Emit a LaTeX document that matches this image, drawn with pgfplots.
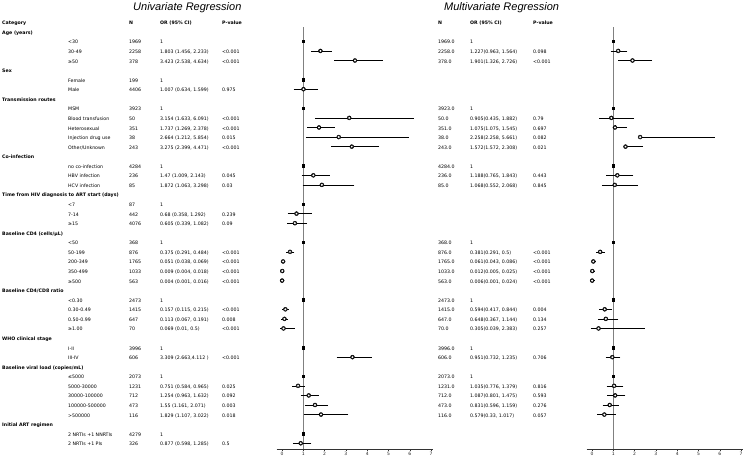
\documentclass[border=0pt]{standalone}
\usepackage{fontspec}
\setmainfont{DejaVu Sans}
\newfontfamily\titlefont{Liberation Sans}
\usepackage{pgfplots}
\pgfplotsset{compat=1.18}
\usepackage{pgfplotstable}

% Univariate estimates: row, OR, lower, upper
\pgfplotstableread{
row or lo hi
3 1.803 1.456 2.233
4 3.423 2.538 4.634
7 1.007 0.634 1.599
10 3.154 1.633 6.091
11 1.737 1.269 2.378
12 2.664 1.212 5.854
13 3.275 2.399 4.471
16 1.47 1.009 2.143
17 1.872 1.063 3.298
20 0.68 0.358 1.292
21 0.605 0.339 1.082
24 0.375 0.291 0.484
25 0.051 0.038 0.069
26 0.009 0.004 0.018
27 0.004 0.001 0.016
30 0.157 0.115 0.215
31 0.113 0.067 0.191
32 0.069 0.01 0.5
35 3.309 2.663 4.112
38 0.751 0.584 0.965
39 1.254 0.963 1.632
40 1.55 1.161 2.071
41 1.829 1.107 3.022
44 0.877 0.598 1.285
}\uniest
\pgfplotstableread{
row or
2 1
6 1
9 1
15 1
19 1
23 1
29 1
34 1
37 1
43 1
}\uniref
% Multivariate estimates
\pgfplotstableread{
row or lo hi
3 1.227 0.963 1.564
4 1.901 1.326 2.726
10 0.905 0.435 1.882
11 1.075 1.075 1.545
12 2.258 2.258 5.661
13 1.572 1.572 2.308
16 1.188 0.765 1.843
17 1.068 0.552 2.068
24 0.381 0.291 0.5
25 0.061 0.043 0.086
26 0.012 0.005 0.025
27 0.006 0.001 0.024
30 0.594 0.417 0.844
31 0.648 0.367 1.144
32 0.305 0.039 2.383
35 0.951 0.732 1.235
38 1.035 0.776 1.379
39 1.087 0.801 1.475
40 0.831 0.596 1.159
41 0.579 0.33 1.017
}\mulest
\pgfplotstableread{
row or
2 1
9 1
15 1
23 1
29 1
34 1
37 1
}\mulref

\newcommand\ts{\fontsize{4.7pt}{5.6pt}\selectfont}
\newcommand\tb{\fontsize{4.7pt}{5.6pt}\selectfont\bfseries}
\newcommand\G[2]{\node[anchor=mid west,font=\tb,inner sep=0] at (2,#1) {#2};}
\newcommand\R[5]{%
  \node[anchor=mid west,font=\ts,inner sep=0] at (68,#1) {#2};
  \node[anchor=mid west,font=\ts,inner sep=0] at (129,#1) {#3};
  \node[anchor=mid west,font=\ts,inner sep=0] at (160,#1) {#4};
  \node[anchor=mid west,font=\ts,inner sep=0] at (222,#1) {#5};}
\newcommand\M[4]{%
  \node[anchor=mid west,font=\ts,inner sep=0] at (438,#1) {#2};
  \node[anchor=mid west,font=\ts,inner sep=0] at (470,#1) {#3};
  \node[anchor=mid west,font=\ts,inner sep=0] at (533,#1) {#4};}

\pgfplotsset{forest/.style={
  scale only axis, width=156.5pt, height=422pt,
  xmin=-0.25, xmax=7.1, ymin=0.5, ymax=44.6, y dir=reverse,
  axis x line*=bottom, axis y line=none,
  xtick={0,1,2,3,4,5,6,7}, xtick align=outside, major tick length=2pt,
  x axis line style={black!80, line width=0.5pt},
  every tick/.style={black!80, line width=0.4pt},
  xticklabel style={font=\fontsize{4.5pt}{5pt}\selectfont, inner sep=1pt, text=black!85},
  /pgf/number format/assume math mode=true,
  clip=false,
  anchor=south west}}

\begin{document}
\begin{tikzpicture}
\path[use as bounding box] (0,0) rectangle (744pt,-458pt);

\node[anchor=base west,font=\titlefont\itshape\fontsize{11pt}{13pt}\selectfont,inner sep=0] at (133pt,-10pt) {Univariate Regression};
\node[anchor=base west,font=\titlefont\itshape\fontsize{11pt}{13pt}\selectfont,inner sep=0] at (444pt,-10pt) {Multivariate Regression};

\begin{scope}[x=1pt,y=-9.57pt,yshift=-22pt]
\G{0}{Category}
\node[anchor=mid west,font=\tb,inner sep=0] at (129,0) {N};
\node[anchor=mid west,font=\tb,inner sep=0] at (160,0) {OR (95\% CI)};
\node[anchor=mid west,font=\tb,inner sep=0] at (222,0) {P-value};
\node[anchor=mid west,font=\tb,inner sep=0] at (438,0) {N};
\node[anchor=mid west,font=\tb,inner sep=0] at (470,0) {OR (95\% CI)};
\node[anchor=mid west,font=\tb,inner sep=0] at (533,0) {P-value};

\G{1}{Age (years)}
\R{2}{<30}{1969}{1}{}
\R{3}{30-49}{2258}{1.803 (1.456, 2.233)}{<0.001}
\R{4}{≥50}{378}{3.423 (2.538, 4.634)}{<0.001}
\G{5}{Sex}
\R{6}{Female}{199}{1}{}
\R{7}{Male}{4406}{1.007 (0.634, 1.599)}{0.975}
\G{8}{Transmission routes}
\R{9}{MSM}{3923}{1}{}
\R{10}{Blood transfusion}{50}{3.154 (1.633, 6.091)}{<0.001}
\R{11}{Heterosexual}{351}{1.737 (1.269, 2.378)}{<0.001}
\R{12}{Injection drug use}{38}{2.664 (1.212, 5.854)}{0.015}
\R{13}{Other/Unknown}{243}{3.275 (2.399, 4.471)}{<0.001}
\G{14}{Co-infection}
\R{15}{no co-infection}{4284}{1}{}
\R{16}{HBV infection}{236}{1.47 (1.009, 2.143)}{0.045}
\R{17}{HCV infection}{85}{1.872 (1.063, 3.298)}{0.03}
\G{18}{Time from HIV diagnosis to ART start (days)}
\R{19}{<7}{87}{1}{}
\R{20}{7-14}{442}{0.68 (0.358, 1.292)}{0.239}
\R{21}{≥15}{4076}{0.605 (0.339, 1.082)}{0.09}
\G{22}{Baseline CD4 (cells/μL)}
\R{23}{<50}{368}{1}{}
\R{24}{50-199}{876}{0.375 (0.291, 0.484)}{<0.001}
\R{25}{200-349}{1765}{0.051 (0.038, 0.069)}{<0.001}
\R{26}{350-499}{1033}{0.009 (0.004, 0.018)}{<0.001}
\R{27}{≥500}{563}{0.004 (0.001, 0.016)}{<0.001}
\G{28}{Baseline CD4/CD8 ratio}
\R{29}{<0.30}{2473}{1}{}
\R{30}{0.30-0.49}{1415}{0.157 (0.115, 0.215)}{<0.001}
\R{31}{0.50-0.99}{647}{0.113 (0.067, 0.191)}{0.008}
\R{32}{≥1.00}{70}{0.069 (0.01, 0.5)}{<0.001}
\G{33}{WHO clinical stage}
\R{34}{I-II}{3996}{1}{}
\R{35}{III-IV}{606}{3.309 (2.663,4.112 )}{<0.001}
\G{36}{Baseline viral load (copies/mL)}
\R{37}{≤5000}{2073}{1}{}
\R{38}{5000-30000}{1231}{0.751 (0.584, 0.965)}{0.025}
\R{39}{30000-100000}{712}{1.254 (0.963, 1.632)}{0.092}
\R{40}{100000-500000}{473}{1.55 (1.161, 2.071)}{0.003}
\R{41}{>500000}{116}{1.829 (1.107, 3.022)}{0.018}
\G{42}{Initial ART regimen}
\R{43}{2 NRTIs +1 NNRTIs}{4279}{1}{}
\R{44}{2 NRTIs +1 PIs}{326}{0.877 (0.598, 1.285)}{0.5}

\M{2}{1969.0}{1}{}
\M{3}{2258.0}{1.227(0.963, 1.564)}{0.098}
\M{4}{378.0}{1.901(1.326, 2.726)}{<0.001}
\M{9}{3923.0}{1}{}
\M{10}{50.0}{0.905(0.435, 1.882)}{0.79}
\M{11}{351.0}{1.075(1.075, 1.545)}{0.697}
\M{12}{38.0}{2.258(2.258, 5.661)}{0.082}
\M{13}{243.0}{1.572(1.572, 2.308)}{0.021}
\M{15}{4284.0}{1}{}
\M{16}{236.0}{1.188(0.765, 1.843)}{0.443}
\M{17}{85.0}{1.068(0.552, 2.068)}{0.845}
\M{23}{368.0}{1}{}
\M{24}{876.0}{0.381(0.291, 0.5)}{<0.001}
\M{25}{1765.0}{0.061(0.043, 0.086)}{<0.001}
\M{26}{1033.0}{0.012(0.005, 0.025)}{<0.001}
\M{27}{563.0}{0.006(0.001, 0.024)}{<0.001}
\M{29}{2473.0}{1}{}
\M{30}{1415.0}{0.594(0.417, 0.844)}{0.004}
\M{31}{647.0}{0.648(0.367, 1.144)}{0.134}
\M{32}{70.0}{0.305(0.039, 2.383)}{0.257}
\M{34}{3996.0}{1}{}
\M{35}{606.0}{0.951(0.732, 1.235)}{0.706}
\M{37}{2073.0}{1}{}
\M{38}{1231.0}{1.035(0.776, 1.379)}{0.816}
\M{39}{712.0}{1.087(0.801, 1.475)}{0.593}
\M{40}{473.0}{0.831(0.596, 1.159)}{0.276}
\M{41}{116.0}{0.579(0.33, 1.017)}{0.057}
\end{scope}

% Univariate forest plot
\begin{axis}[forest, at={(276.7pt,-449pt)}]
\addplot[gray, line width=0.6pt] coordinates {(1,0.5) (1,44.6)};
\addplot[only marks, mark=none,
  error bars/.cd, x dir=both, x explicit,
  error bar style={black, line width=0.6pt},
  error mark options={black, mark size=2pt, line width=0.6pt}]
  table[x=or, y=row, x error plus expr=\thisrow{hi}-\thisrow{or}, x error minus expr=\thisrow{or}-\thisrow{lo}] {\uniest};
\addplot[only marks, mark=*, mark size=1.7pt, mark options={fill=white, draw=black, line width=0.5pt}]
  table[x=or, y=row] {\uniest};
\addplot[only marks, mark=square*, mark size=1.3pt, mark options={fill=black, draw=black}]
  table[x=or, y=row] {\uniref};
\end{axis}

% Multivariate forest plot
\begin{axis}[forest, at={(586.7pt,-449pt)}]
\addplot[gray, line width=0.6pt] coordinates {(1,0.5) (1,44.6)};
\addplot[only marks, mark=none,
  error bars/.cd, x dir=both, x explicit,
  error bar style={black, line width=0.6pt},
  error mark options={black, mark size=2pt, line width=0.6pt}]
  table[x=or, y=row, x error plus expr=\thisrow{hi}-\thisrow{or}, x error minus expr=\thisrow{or}-\thisrow{lo}] {\mulest};
\addplot[only marks, mark=*, mark size=1.7pt, mark options={fill=white, draw=black, line width=0.5pt}]
  table[x=or, y=row] {\mulest};
\addplot[only marks, mark=square*, mark size=1.3pt, mark options={fill=black, draw=black}]
  table[x=or, y=row] {\mulref};
\end{axis}
\end{tikzpicture}
\end{document}
